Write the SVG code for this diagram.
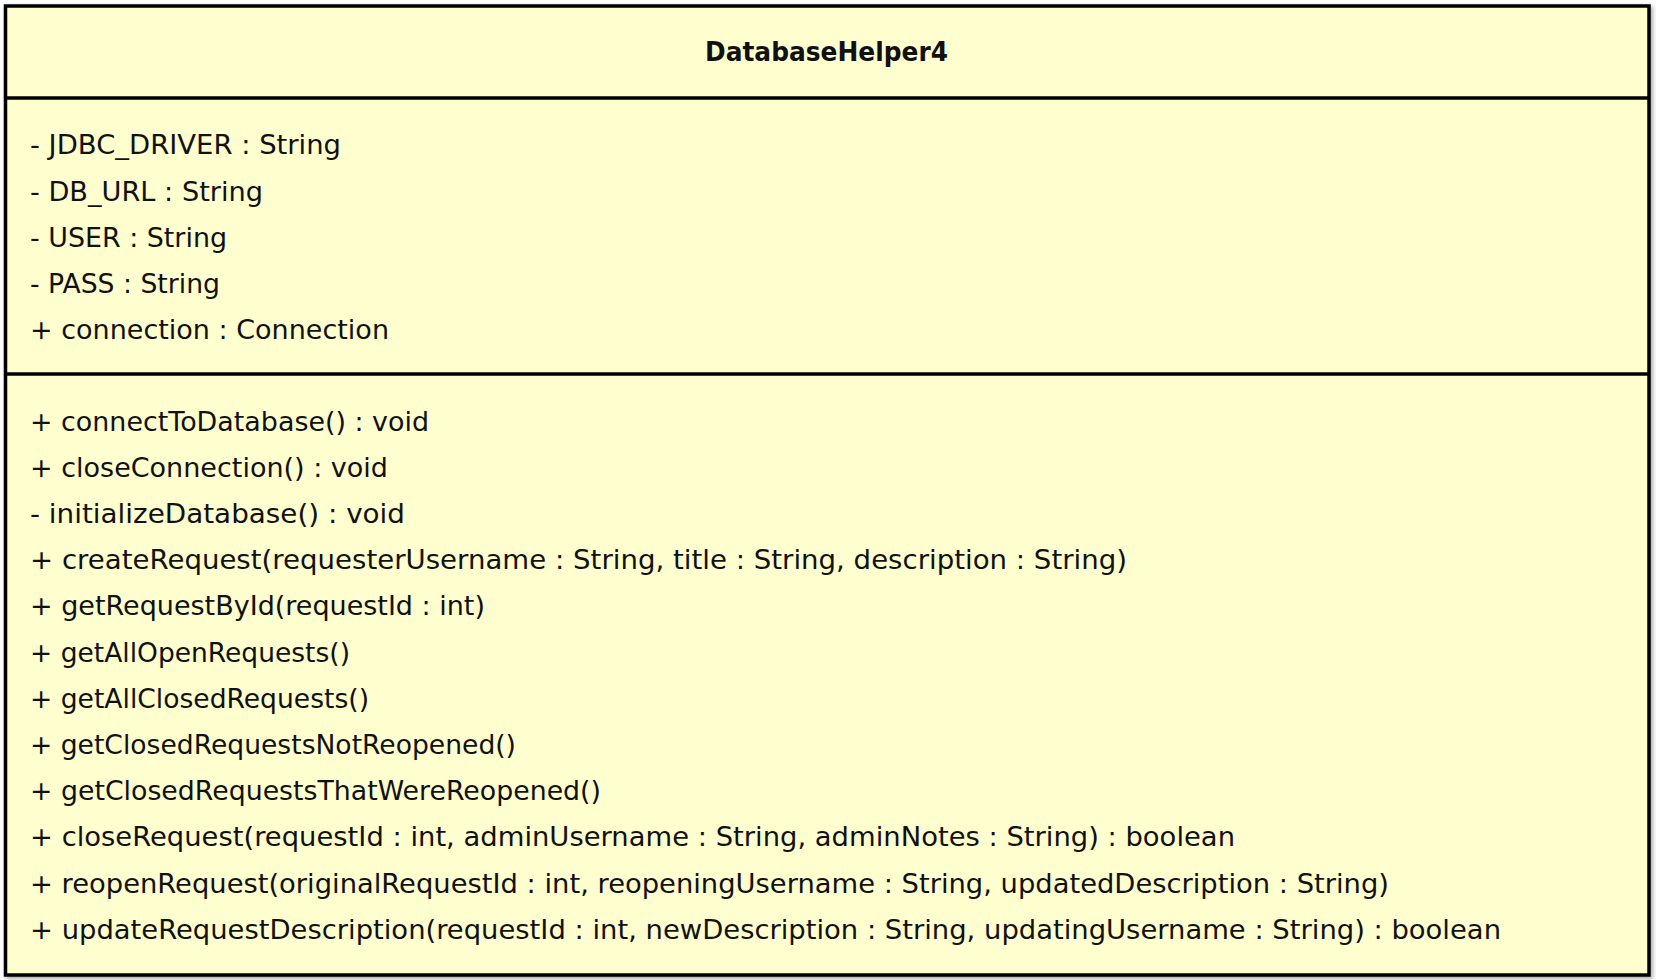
<svg xmlns="http://www.w3.org/2000/svg" width="1656" height="980" viewBox="0 0 1656 980">
<style>
.box{fill:#FEFECE;stroke:#000;stroke-width:3.5}
.sep{stroke:#000;stroke-width:3.5}
.t{font-family:"DejaVu Sans","Noto Sans",sans-serif;font-size:26.5px;fill:#111}
.title{font-family:"DejaVu Sans","Noto Sans",sans-serif;font-size:27px;font-weight:bold;fill:#111}
</style>
<defs>
<filter id="sh" x="-5%" y="-5%" width="110%" height="110%">
<feGaussianBlur in="SourceAlpha" stdDeviation="2"/>
<feOffset dx="2" dy="2"/>
<feComponentTransfer><feFuncA type="linear" slope="0.35"/></feComponentTransfer>
<feMerge><feMergeNode/><feMergeNode in="SourceGraphic"/></feMerge>
</filter>
</defs>
<rect width="1656" height="980" fill="#fff"/>
<g id="DatabaseHelper4">
<rect class="box" x="5.5" y="6" width="1643.5" height="969" filter="url(#sh)"/>
<line class="sep" x1="5.5" y1="98" x2="1649" y2="98"/>
<line class="sep" x1="5.5" y1="374" x2="1649" y2="374"/>
<text class="title" x="705" y="61" textLength="243" lengthAdjust="spacingAndGlyphs">DatabaseHelper4</text>
<text class="t" x="30" y="154" textLength="311" lengthAdjust="spacingAndGlyphs">- JDBC_DRIVER : String</text>
<text class="t" x="30" y="200.5" textLength="233" lengthAdjust="spacingAndGlyphs">- DB_URL : String</text>
<text class="t" x="30" y="246.7" textLength="197" lengthAdjust="spacingAndGlyphs">- USER : String</text>
<text class="t" x="30" y="293" textLength="190" lengthAdjust="spacingAndGlyphs">- PASS : String</text>
<text class="t" x="30" y="339.3" textLength="359" lengthAdjust="spacingAndGlyphs">+ connection : Connection</text>
<text class="t" x="30" y="430.5" textLength="399" lengthAdjust="spacingAndGlyphs">+ connectToDatabase() : void</text>
<text class="t" x="30" y="476.7" textLength="358" lengthAdjust="spacingAndGlyphs">+ closeConnection() : void</text>
<text class="t" x="30" y="522.9" textLength="375" lengthAdjust="spacingAndGlyphs">- initializeDatabase() : void</text>
<text class="t" x="30" y="569.1" textLength="1097" lengthAdjust="spacingAndGlyphs">+ createRequest(requesterUsername : String, title : String, description : String)</text>
<text class="t" x="30" y="615.3" textLength="455" lengthAdjust="spacingAndGlyphs">+ getRequestById(requestId : int)</text>
<text class="t" x="30" y="661.5" textLength="320" lengthAdjust="spacingAndGlyphs">+ getAllOpenRequests()</text>
<text class="t" x="30" y="707.7" textLength="339" lengthAdjust="spacingAndGlyphs">+ getAllClosedRequests()</text>
<text class="t" x="30" y="753.9" textLength="486" lengthAdjust="spacingAndGlyphs">+ getClosedRequestsNotReopened()</text>
<text class="t" x="30" y="800.1" textLength="571" lengthAdjust="spacingAndGlyphs">+ getClosedRequestsThatWereReopened()</text>
<text class="t" x="30" y="846.3" textLength="1205" lengthAdjust="spacingAndGlyphs">+ closeRequest(requestId : int, adminUsername : String, adminNotes : String) : boolean</text>
<text class="t" x="30" y="892.5" textLength="1359" lengthAdjust="spacingAndGlyphs">+ reopenRequest(originalRequestId : int, reopeningUsername : String, updatedDescription : String)</text>
<text class="t" x="30" y="938.7" textLength="1471" lengthAdjust="spacingAndGlyphs">+ updateRequestDescription(requestId : int, newDescription : String, updatingUsername : String) : boolean</text>
</g>
<g id="connectors"/>
</svg>
